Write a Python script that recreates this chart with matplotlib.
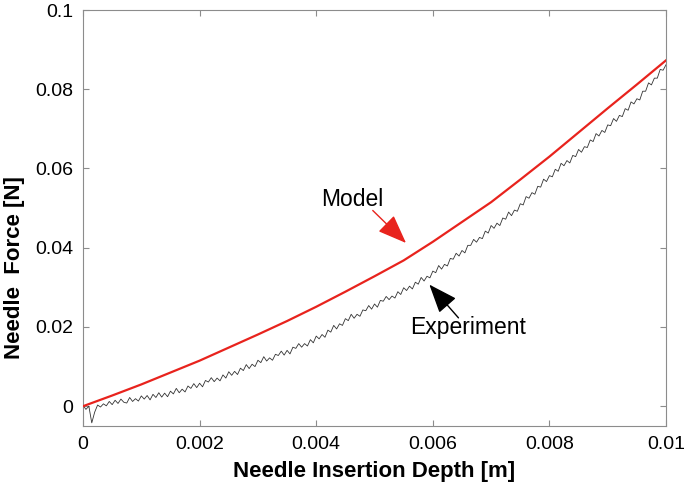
import numpy as np
import matplotlib
matplotlib.use("Agg")
import matplotlib.pyplot as plt

plt.rcParams['font.family'] = ['Liberation Sans', 'DejaVu Sans']

# Model curve
model_depth = [0.0, 0.0005, 0.001, 0.0015, 0.002, 0.0025, 0.003, 0.0035, 0.004, 0.0045,
               0.005, 0.0055, 0.006, 0.0065, 0.007, 0.0075, 0.008, 0.0085, 0.009, 0.0095, 0.01]
model_force = [0.0000, 0.0027, 0.0055, 0.0085, 0.0115, 0.0148, 0.0181, 0.0215, 0.0251, 0.0289,
               0.0328, 0.0368, 0.0415, 0.0465, 0.0515, 0.0572, 0.0630, 0.0691, 0.0752, 0.0812, 0.0873]

# Experimental curve (sampled every 0.05 mm)
exp_depth = np.linspace(0.0, 0.01, 201)
exp_force = [
    0.0002, -0.0008, 0.0000, -0.0042, -0.0015, 0.0003, -0.0002, 0.0006, 0.0001, 0.0012,
    0.0004, 0.0015, 0.0007, 0.0018, 0.0010, 0.0008, 0.0022, 0.0012, 0.0019, 0.0013,
    0.0026, 0.0018, 0.0027, 0.0016, 0.0030, 0.0022, 0.0034, 0.0023, 0.0033, 0.0024,
    0.0038, 0.0031, 0.0045, 0.0034, 0.0043, 0.0036, 0.0051, 0.0045, 0.0057, 0.0047,
    0.0058, 0.0049, 0.0065, 0.0061, 0.0072, 0.0062, 0.0071, 0.0064, 0.0079, 0.0071,
    0.0087, 0.0078, 0.0088, 0.0080, 0.0096, 0.0090, 0.0105, 0.0095, 0.0106, 0.0100,
    0.0116, 0.0110, 0.0125, 0.0114, 0.0122, 0.0116, 0.0131, 0.0128, 0.0139, 0.0129,
    0.0141, 0.0132, 0.0149, 0.0146, 0.0158, 0.0149, 0.0158, 0.0152, 0.0168, 0.0160,
    0.0177, 0.0170, 0.0181, 0.0174, 0.0192, 0.0187, 0.0204, 0.0195, 0.0208, 0.0204,
    0.0221, 0.0216, 0.0232, 0.0222, 0.0232, 0.0227, 0.0243, 0.0241, 0.0254, 0.0245,
    0.0258, 0.0250, 0.0267, 0.0265, 0.0277, 0.0269, 0.0278, 0.0273, 0.0289, 0.0282,
    0.0299, 0.0292, 0.0303, 0.0296, 0.0313, 0.0308, 0.0325, 0.0316, 0.0328, 0.0324,
    0.0341, 0.0337, 0.0355, 0.0346, 0.0358, 0.0354, 0.0373, 0.0371, 0.0386, 0.0379,
    0.0393, 0.0387, 0.0406, 0.0406, 0.0421, 0.0414, 0.0426, 0.0423, 0.0442, 0.0437,
    0.0456, 0.0449, 0.0462, 0.0456, 0.0475, 0.0472, 0.0490, 0.0481, 0.0495, 0.0492,
    0.0511, 0.0508, 0.0529, 0.0525, 0.0539, 0.0535, 0.0555, 0.0553, 0.0573, 0.0567,
    0.0582, 0.0579, 0.0598, 0.0593, 0.0613, 0.0607, 0.0620, 0.0614, 0.0633, 0.0630,
    0.0648, 0.0641, 0.0655, 0.0653, 0.0672, 0.0668, 0.0688, 0.0682, 0.0696, 0.0691,
    0.0710, 0.0708, 0.0726, 0.0719, 0.0734, 0.0731, 0.0751, 0.0747, 0.0768, 0.0763,
    0.0776, 0.0773, 0.0795, 0.0795, 0.0816, 0.0811, 0.0828, 0.0828, 0.0850, 0.0848,
    0.0862,
]

x_ticks = [0, 0.002, 0.004, 0.006, 0.008, 0.01]
x_tick_labels = ['0', '0.002', '0.004', '0.006', '0.008', '0.01']
y_ticks = [0, 0.02, 0.04, 0.06, 0.08, 0.1]
y_tick_labels = ['0', '0.02', '0.04', '0.06', '0.08', '0.1']

red = '#e8231d'

fig = plt.figure(figsize=(6.85, 4.88), dpi=100)
ax = fig.add_axes([0.1212, 0.127, 0.8511, 0.8525])

ax.plot(exp_depth, exp_force, color='#333333', lw=0.6, zorder=2)
ax.plot(model_depth, model_force, color=red, lw=1.6, zorder=3)

ax.set_xlim(0, 0.01)
ax.set_ylim(-0.005, 0.1)
ax.set_xticks(x_ticks)
ax.set_xticklabels(x_tick_labels)
ax.set_yticks(y_ticks)
ax.set_yticklabels(y_tick_labels)

gray = '#8c8c8c'
for s in ax.spines.values():
    s.set_color(gray)
    s.set_linewidth(0.8)
ax.tick_params(direction='in', length=4, width=0.8, color=gray, labelsize=14,
               top=True, right=True, pad=7, labelcolor='black')

ax.set_xlabel('Needle Insertion Depth [m]', fontsize=16, fontweight='bold', labelpad=6)
ax.set_ylabel('Needle  Force [N]', fontsize=16, fontweight='bold', labelpad=6)
ax.yaxis.set_label_coords(-0.1, 0.38)

ax.text(0.00461, 0.0521, 'Model', fontsize=16.5, ha='center', va='center')
ax.annotate('', xy=(0.00554, 0.0412), xytext=(0.00497, 0.0494),
            arrowprops=dict(arrowstyle='-|>,head_length=0.9,head_width=0.35', color=red,
                            lw=1.0, mutation_scale=20, shrinkA=0, shrinkB=0))
ax.text(0.0066, 0.0199, 'Experiment', fontsize=16.5, ha='center', va='center')
ax.annotate('', xy=(0.00594, 0.0307), xytext=(0.00644, 0.0223),
            arrowprops=dict(arrowstyle='-|>,head_length=0.9,head_width=0.35', color='black',
                            lw=1.0, mutation_scale=20, shrinkA=0, shrinkB=0))

fig.savefig('out.png', dpi=100)
